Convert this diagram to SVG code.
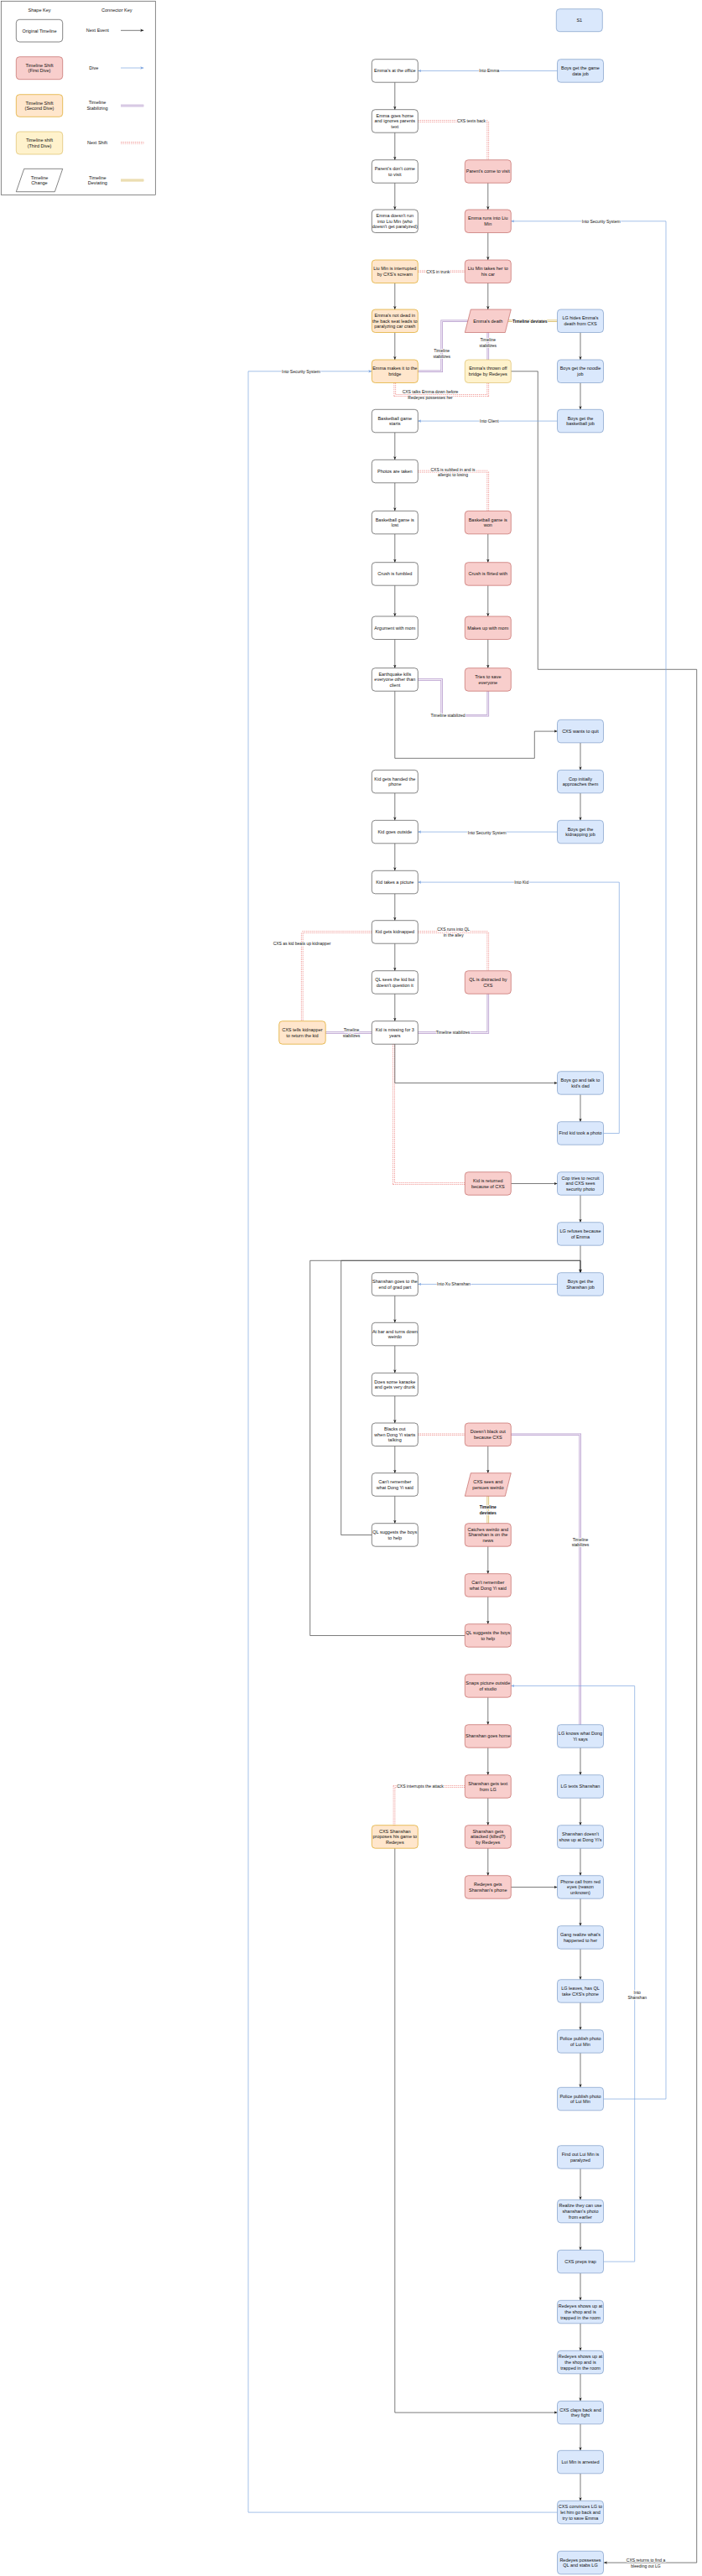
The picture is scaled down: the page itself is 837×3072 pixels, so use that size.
<svg xmlns="http://www.w3.org/2000/svg" width="837" height="3072" viewBox="0 0 837 3072">
<defs>
<style>
.o{fill:#fff;stroke:#333;stroke-width:.6}
.r{fill:#f8cecc;stroke:#b85450;stroke-width:.6}
.or{fill:#ffe6cc;stroke:#d79b00;stroke-width:.6}
.y{fill:#fff2cc;stroke:#d6b656;stroke-width:.6}
.b{fill:#dae8fc;stroke:#6c8ebf;stroke-width:.6}
text{font-family:"Liberation Sans",Arial,Helvetica,sans-serif;fill:#111;text-anchor:middle}
.t{font-size:5.5px}
.l{font-size:5px;stroke:#fff;stroke-width:1.6px;paint-order:stroke;stroke-linejoin:round}
.bd{font-weight:bold}
.a{fill:none;stroke:#444;stroke-width:.7;marker-end:url(#ah)}
.d{fill:none;stroke:#7ea6e0;stroke-width:.7;marker-end:url(#ab)}
.po{fill:none;stroke:#b69bcc;stroke-width:2.6}
.pi{fill:none;stroke:#f4eef8;stroke-width:1.1}
.ro{fill:none;stroke:#ee8a87;stroke-width:2.6;stroke-dasharray:1.4 1}
.ri{fill:none;stroke:#fff;stroke-width:1.1}
.yo{fill:none;stroke:#d6b656;stroke-width:2.6}
.yi{fill:none;stroke:#fff;stroke-width:1.1}
</style>
<marker id="ah" markerWidth="5" markerHeight="4" refX="4" refY="2" orient="auto" markerUnits="userSpaceOnUse"><path d="M0,0.3 L4,2 L0,3.7 L1,2 z" fill="#222"/></marker>
<marker id="ab" markerWidth="5" markerHeight="4" refX="4" refY="2" orient="auto" markerUnits="userSpaceOnUse"><path d="M0,0.3 L4,2 L0,3.7 L1,2 z" fill="#7ea6e0"/></marker>
</defs>
<rect width="837" height="3072" fill="#fff"/>

<g id="key">
<rect x="1.3" y="1.3" width="184" height="231" fill="none" stroke="#555" stroke-width=".7"/>
<text class="t" x="47" y="13.9">Shape Key</text>
<text class="t" x="139.3" y="13.9">Connector Key</text>
<rect class="o" x="19.3" y="23.3" width="55.4" height="26.7" rx="4"/>
<text class="t" x="47" y="38.6">Original Timeline</text>
<rect class="r" x="19.3" y="67.7" width="55.4" height="27" rx="4"/>
<text class="t" x="47" y="83.1"><tspan x="47" dy="-3.3">Timeline Shift</tspan><tspan x="47" dy="6.6">(First Dive)</tspan></text>
<rect class="or" x="19.3" y="112.7" width="55.4" height="26.6" rx="4"/>
<text class="t" x="47" y="127.9"><tspan x="47" dy="-3.3">Timeline Shift</tspan><tspan x="47" dy="6.6">(Second Dive)</tspan></text>
<rect class="y" x="19.3" y="157" width="55.4" height="27" rx="4"/>
<text class="t" x="47" y="172.4"><tspan x="47" dy="-3.3">Timeline shift</tspan><tspan x="47" dy="6.6">(Third Dive)</tspan></text>
<polygon class="o" points="28.7,201.3 74.7,201.3 65.3,228.7 19.3,228.7"/>
<text class="t" x="47" y="216.9"><tspan x="47" dy="-3.3">Timeline</tspan><tspan x="47" dy="6.6">Change</tspan></text>
<text class="t" x="116.3" y="38.2">Next Event</text>
<text class="t" x="111.7" y="82.9">Dive</text>
<text class="t" x="116" y="127.6"><tspan x="116" dy="-3.3">Timeline</tspan><tspan x="116" dy="6.6">Stabilizing</tspan></text>
<text class="t" x="116" y="172.2">Next Shift</text>
<text class="t" x="116.3" y="216.9"><tspan x="116.3" dy="-3.3">Timeline</tspan><tspan x="116.3" dy="6.6">Deviating</tspan></text>
<path class="a" d="M144,36.3 H171.3"/>
<path class="d" d="M144,81 H171.3"/>
<path class="po" d="M144,126 H171.3"/><path class="pi" d="M144,126 H171.3"/>
<path class="ro" d="M144,170.3 H171.3"/><path class="ri" d="M144,170.3 H171.3"/>
<path class="yo" d="M144,215 H171.3"/><path class="yi" d="M144,215 H171.3"/>
</g>

<g id="connectors">
<!-- double links: next shift -->
<path class="ro" d="M498.3,144.5 H581.8 V190.7"/><path class="ri" d="M498.3,144.5 H581.8 V190.7"/>
<path class="ro" d="M498.3,323.8 H554.3"/><path class="ri" d="M498.3,323.8 H554.3"/>
<path class="ro" d="M470.8,456.5 V471.5 H581.8 V456.5"/><path class="ri" d="M470.8,456.5 V471.5 H581.8 V456.5"/>
<path class="ro" d="M498.3,562.1 H581.8 V609.3"/><path class="ri" d="M498.3,562.1 H581.8 V609.3"/>
<path class="ro" d="M498.3,1111.5 H581.8 V1157.7"/><path class="ri" d="M498.3,1111.5 H581.8 V1157.7"/>
<path class="ro" d="M443.3,1111.5 H360.2 V1217.7"/><path class="ri" d="M443.3,1111.5 H360.2 V1217.7"/>
<path class="ro" d="M469.5,1245.2 V1411.5 H554.3"/><path class="ri" d="M469.5,1245.2 V1411.5 H554.3"/>
<path class="ro" d="M498.3,1710.8 H554.3"/><path class="ri" d="M498.3,1710.8 H554.3"/>
<path class="ro" d="M554.3,2130.5 H470 V2176.7"/><path class="ri" d="M554.3,2130.5 H470 V2176.7"/>
<!-- double links: stabilizes -->
<path class="po" d="M557.8,382.8 H526.7 V442.8 H498.3"/><path class="pi" d="M557.8,382.8 H526.7 V442.8 H498.3"/>
<path class="po" d="M581.8,396.5 V429"/><path class="pi" d="M581.8,396.5 V429"/>
<path class="po" d="M498.3,810.5 H526.7 V853.3 H581.8 V824.2"/><path class="pi" d="M498.3,810.5 H526.7 V853.3 H581.8 V824.2"/>
<path class="po" d="M581.8,1185.2 V1231.5 H498.3"/><path class="pi" d="M581.8,1185.2 V1231.5 H498.3"/>
<path class="po" d="M388.2,1231.5 H443.3"/><path class="pi" d="M388.2,1231.5 H443.3"/>
<path class="po" d="M609.3,1710.8 H691.7 V2056.7"/><path class="pi" d="M609.3,1710.8 H691.7 V2056.7"/>
<!-- double links: deviates -->
<path class="yo" d="M606,382.8 H664.5"/><path class="yi" d="M606,382.8 H664.5"/>
<path class="yo" d="M581.8,1784.2 V1816.7"/><path class="yi" d="M581.8,1784.2 V1816.7"/>

<!-- next event arrows -->
<path class="a" d="M470.8,98.2 V130.7"/>
<path class="a" d="M470.8,158.2 V190.7"/>
<path class="a" d="M470.8,218.2 V250"/>
<path class="a" d="M470.8,337.5 V369"/>
<path class="a" d="M470.8,396.5 V429"/>
<path class="a" d="M581.8,218.2 V250"/>
<path class="a" d="M581.8,277.5 V310"/>
<path class="a" d="M581.8,337.5 V369"/>
<path class="a" d="M692,396.5 V429"/>
<path class="a" d="M692,456.5 V488.3"/>
<path class="a" d="M609.3,442.8 H641.3 V798.3 H830.7 V3056.1 H720"/>
<path class="a" d="M470.8,515.8 V548.3"/>
<path class="a" d="M470.8,575.8 V609.3"/>
<path class="a" d="M470.8,636.8 V670.7"/>
<path class="a" d="M470.8,698.2 V735"/>
<path class="a" d="M470.8,762.5 V796.7"/>
<path class="a" d="M581.8,636.8 V670.7"/>
<path class="a" d="M581.8,698.2 V735"/>
<path class="a" d="M581.8,762.5 V796.7"/>
<path class="a" d="M470.8,824.2 V904.3 H637.3 V872.1 H664.5"/>
<path class="a" d="M692,885.8 V918.3"/>
<path class="a" d="M692,945.8 V978.3"/>
<path class="a" d="M470.8,945.8 V978.3"/>
<path class="a" d="M470.8,1005.8 V1038.3"/>
<path class="a" d="M470.8,1065.8 V1097.7"/>
<path class="a" d="M470.8,1125.2 V1157.7"/>
<path class="a" d="M470.8,1185.2 V1217.7"/>
<path class="a" d="M470.8,1245.2 V1291.5 H664.5"/>
<path class="a" d="M692,1305.2 V1337.7"/>
<path class="a" d="M609.3,1411.5 H664.5"/>
<path class="a" d="M692,1425.2 V1457.7"/>
<path class="a" d="M692,1485.2 V1517.7"/>
<path class="a" d="M443.3,1830.5 H406.7 V1503.3 H692 V1517.7"/>
<path class="a" d="M554.3,1950.5 H369.7 V1503.3 H692 V1517.7"/>
<path class="a" d="M470.8,1545.2 V1577.3"/>
<path class="a" d="M470.8,1604.8 V1637.3"/>
<path class="a" d="M470.8,1664.8 V1697"/>
<path class="a" d="M470.8,1724.5 V1756.7"/>
<path class="a" d="M470.8,1784.2 V1816.7"/>
<path class="a" d="M581.8,1724.5 V1756.7"/>
<path class="a" d="M581.8,1844.2 V1876.7"/>
<path class="a" d="M581.8,1904.2 V1936.7"/>
<path class="a" d="M581.8,2024.2 V2056.7"/>
<path class="a" d="M581.8,2084.2 V2116.7"/>
<path class="a" d="M581.8,2144.2 V2176.7"/>
<path class="a" d="M581.8,2204.2 V2236.7"/>
<path class="a" d="M609.3,2250.5 H664.5"/>
<path class="a" d="M692,2084.2 V2116.7"/>
<path class="a" d="M692,2144.2 V2176.7"/>
<path class="a" d="M692,2204.2 V2236.7"/>
<path class="a" d="M692,2264.2 V2296.7"/>
<path class="a" d="M692,2324.2 V2360.7"/>
<path class="a" d="M692,2388.2 V2420.7"/>
<path class="a" d="M692,2448.2 V2489.3"/>
<path class="a" d="M692,2586.2 V2623.3"/>
<path class="a" d="M692,2650.8 V2683.3"/>
<path class="a" d="M692,2710.8 V2743.3"/>
<path class="a" d="M692,2770.8 V2803.3"/>
<path class="a" d="M692,2830.8 V2863.3"/>
<path class="a" d="M692,2890.8 V2922.3"/>
<path class="a" d="M692,2949.8 V2982.3"/>
<path class="a" d="M470.8,2204.2 V2877.1 H664.5"/>

<!-- dives -->
<path class="d" d="M664.5,84.5 H498.3"/>
<path class="d" d="M664.5,502.1 H498.3"/>
<path class="d" d="M664.5,992.1 H498.3"/>
<path class="d" d="M719.5,1351.5 H738.3 V1052.1 H498.3"/>
<path class="d" d="M664.5,1531.5 H498.3"/>
<path class="d" d="M719.5,2697.1 H756.7 V2010.5 H609.3"/>
<path class="d" d="M719.5,2503.1 H794 V263.8 H609.3"/>
<path class="d" d="M664.5,2996.1 H296 V442.8 H443.3"/>

<!-- labels -->
<text class="l" x="583.3" y="86.2">Into Emma</text>
<text class="l" x="562" y="146.2">CXS texts back</text>
<text class="l" x="716.7" y="265.5">Into Security System</text>
<text class="l" x="522.3" y="325.5">CXS in trunk</text>
<text class="l bd" x="631.7" y="384.5">Timeline deviates</text>
<text class="l" x="581.8" y="410.5"><tspan x="581.8" dy="-3.3">Timeline</tspan><tspan x="581.8" dy="6.6">stabilizes</tspan></text>
<text class="l" x="526.7" y="423.4"><tspan x="526.7" dy="-3.3">Timeline</tspan><tspan x="526.7" dy="6.6">stabilizes</tspan></text>
<text class="l" x="359" y="444.5">Into Security System</text>
<text class="l" x="513" y="472.6"><tspan x="513" dy="-3.3">CXS talks Emma down before</tspan><tspan x="513" dy="6.6">Redeyes possesses her</tspan></text>
<text class="l" x="583.3" y="503.8">Into Client</text>
<text class="l" x="540" y="564.9"><tspan x="540" dy="-3.3">CXS is subbed in and is</tspan><tspan x="540" dy="6.6">allergic to losing</tspan></text>
<text class="l" x="534" y="855">Timeline stabilized</text>
<text class="l" x="580.7" y="994.8">Into Security System</text>
<text class="l" x="621.7" y="1053.8">Into Kid</text>
<text class="l" x="540.7" y="1113.4"><tspan x="540.7" dy="-3.3">CXS runs into QL</tspan><tspan x="540.7" dy="6.6">in the alley</tspan></text>
<text class="l" x="360" y="1126.7">CXS as kid beats up kidnapper</text>
<text class="l" x="540" y="1233.2">Timeline stabilizes</text>
<text class="l" x="419" y="1233.2"><tspan x="419" dy="-3.3">Timeline</tspan><tspan x="419" dy="6.6">stabilizes</tspan></text>
<text class="l" x="541" y="1533.2">Into Xu Shanshan</text>
<text class="l bd" x="581.8" y="1802.2"><tspan x="581.8" dy="-3.3">Timeline</tspan><tspan x="581.8" dy="6.6">deviates</tspan></text>
<text class="l" x="692" y="1840.9"><tspan x="692" dy="-3.3">Timeline</tspan><tspan x="692" dy="6.6">stabilizes</tspan></text>
<text class="l" x="501" y="2132.2">CXS interrupts the attack</text>
<text class="l" x="759.7" y="2380.9"><tspan x="759.7" dy="-3.3">Into</tspan><tspan x="759.7" dy="6.6">Shanshan</tspan></text>
<text class="l" x="770" y="3058.5"><tspan x="770" dy="-3.3">CXS returns to find a</tspan><tspan x="770" dy="6.6">bleeding out LG</tspan></text>
</g>

<!-- original timeline nodes -->
<g id="n_office"><rect class="o" x="443.3" y="70.7" width="55" height="27.5" rx="4"/><text class="t" x="470.8" y="86.4">Emma's at the office</text></g>
<g id="n_home"><rect class="o" x="443.3" y="130.7" width="55" height="27.5" rx="4"/><text class="t" x="470.8" y="146.4"><tspan x="470.8" dy="-6.6">Emma goes home</tspan><tspan x="470.8" dy="6.6">and ignores parents</tspan><tspan x="470.8" dy="6.6">text</tspan></text></g>
<g id="n_parents_no"><rect class="o" x="443.3" y="190.7" width="55" height="27.5" rx="4"/><text class="t" x="470.8" y="206.4"><tspan x="470.8" dy="-3.3">Parent's don't come</tspan><tspan x="470.8" dy="6.6">to visit</tspan></text></g>
<g id="n_norun"><rect class="o" x="443.3" y="250" width="55" height="27.5" rx="4"/><text class="t" x="470.8" y="265.7"><tspan x="470.8" dy="-6.6">Emma doesn't run</tspan><tspan x="470.8" dy="6.6">into Liu Min (who</tspan><tspan x="470.8" dy="6.6">doesn't get paralyzed)</tspan></text></g>
<g id="n_bb_start"><rect class="o" x="443.3" y="488.3" width="55" height="27.5" rx="4"/><text class="t" x="470.8" y="504"><tspan x="470.8" dy="-3.3">Basketball game</tspan><tspan x="470.8" dy="6.6">starts</tspan></text></g>
<g id="n_photos"><rect class="o" x="443.3" y="548.3" width="55" height="27.5" rx="4"/><text class="t" x="470.8" y="564">Photos are taken</text></g>
<g id="n_bb_lost"><rect class="o" x="443.3" y="609.3" width="55" height="27.5" rx="4"/><text class="t" x="470.8" y="625"><tspan x="470.8" dy="-3.3">Basketball game is</tspan><tspan x="470.8" dy="6.6">lost</tspan></text></g>
<g id="n_fumbled"><rect class="o" x="443.3" y="670.7" width="55" height="27.5" rx="4"/><text class="t" x="470.8" y="686.4">Crush is fumbled</text></g>
<g id="n_argument"><rect class="o" x="443.3" y="735" width="55" height="27.5" rx="4"/><text class="t" x="470.8" y="750.7">Argument with mom</text></g>
<g id="n_earthquake"><rect class="o" x="443.3" y="796.7" width="55" height="27.5" rx="4"/><text class="t" x="470.8" y="812.4"><tspan x="470.8" dy="-6.6">Earthquake kills</tspan><tspan x="470.8" dy="6.6">everyone other than</tspan><tspan x="470.8" dy="6.6">client</tspan></text></g>
<g id="n_kidphone"><rect class="o" x="443.3" y="918.3" width="55" height="27.5" rx="4"/><text class="t" x="470.8" y="934"><tspan x="470.8" dy="-3.3">Kid gets handed the</tspan><tspan x="470.8" dy="6.6">phone</tspan></text></g>
<g id="n_kidout"><rect class="o" x="443.3" y="978.3" width="55" height="27.5" rx="4"/><text class="t" x="470.8" y="994">Kid goes outside</text></g>
<g id="n_kidpic"><rect class="o" x="443.3" y="1038.3" width="55" height="27.5" rx="4"/><text class="t" x="470.8" y="1054">Kid takes a picture</text></g>
<g id="n_kidnapped"><rect class="o" x="443.3" y="1097.7" width="55" height="27.5" rx="4"/><text class="t" x="470.8" y="1113.4">Kid gets kidnapped</text></g>
<g id="n_qlsees"><rect class="o" x="443.3" y="1157.7" width="55" height="27.5" rx="4"/><text class="t" x="470.8" y="1173.4"><tspan x="470.8" dy="-3.3">QL sees the kid but</tspan><tspan x="470.8" dy="6.6">doesn't question it</tspan></text></g>
<g id="n_missing"><rect class="o" x="443.3" y="1217.7" width="55" height="27.5" rx="4"/><text class="t" x="470.8" y="1233.4"><tspan x="470.8" dy="-3.3">Kid is missing for 3</tspan><tspan x="470.8" dy="6.6">years</tspan></text></g>
<g id="n_grad"><rect class="o" x="443.3" y="1517.7" width="55" height="27.5" rx="4"/><text class="t" x="470.8" y="1533.4"><tspan x="470.8" dy="-3.3">Shanshan goes to the</tspan><tspan x="470.8" dy="6.6">end of grad part</tspan></text></g>
<g id="n_bar"><rect class="o" x="443.3" y="1577.3" width="55" height="27.5" rx="4"/><text class="t" x="470.8" y="1593"><tspan x="470.8" dy="-3.3">At bar and turns down</tspan><tspan x="470.8" dy="6.6">weirdo</tspan></text></g>
<g id="n_karaoke"><rect class="o" x="443.3" y="1637.3" width="55" height="27.5" rx="4"/><text class="t" x="470.8" y="1653"><tspan x="470.8" dy="-3.3">Does some karaoke</tspan><tspan x="470.8" dy="6.6">and gets very drunk</tspan></text></g>
<g id="n_blackout"><rect class="o" x="443.3" y="1697" width="55" height="27.5" rx="4"/><text class="t" x="470.8" y="1712.7"><tspan x="470.8" dy="-6.6">Blacks out</tspan><tspan x="470.8" dy="6.6">when Dong Yi starts</tspan><tspan x="470.8" dy="6.6">talking</tspan></text></g>
<g id="n_cantremember"><rect class="o" x="443.3" y="1756.7" width="55" height="27.5" rx="4"/><text class="t" x="470.8" y="1772.4"><tspan x="470.8" dy="-3.3">Can't remember</tspan><tspan x="470.8" dy="6.6">what Dong Yi said</tspan></text></g>
<g id="n_qlsuggests"><rect class="o" x="443.3" y="1816.7" width="55" height="27.5" rx="4"/><text class="t" x="470.8" y="1832.4"><tspan x="470.8" dy="-3.3">QL suggests the boys</tspan><tspan x="470.8" dy="6.6">to help</tspan></text></g>

<!-- first dive (red) -->
<g id="r_parents"><rect class="r" x="554.3" y="190.7" width="55" height="27.5" rx="4"/><text class="t" x="581.8" y="206.4">Parent's come to visit</text></g>
<g id="r_runs"><rect class="r" x="554.3" y="250" width="55" height="27.5" rx="4"/><text class="t" x="581.8" y="265.7"><tspan x="581.8" dy="-3.3">Emma runs into Liu</tspan><tspan x="581.8" dy="6.6">Min</tspan></text></g>
<g id="r_car"><rect class="r" x="554.3" y="310" width="55" height="27.5" rx="4"/><text class="t" x="581.8" y="325.7"><tspan x="581.8" dy="-3.3">Liu Min takes her to</tspan><tspan x="581.8" dy="6.6">his car</tspan></text></g>
<g id="r_death"><polygon class="r" points="561.3,369 609.3,369 602.3,396.5 554.3,396.5"/><text class="t" x="581.8" y="384.7">Emma's death</text></g>
<g id="r_won"><rect class="r" x="554.3" y="609.3" width="55" height="27.5" rx="4"/><text class="t" x="581.8" y="625"><tspan x="581.8" dy="-3.3">Basketball game is</tspan><tspan x="581.8" dy="6.6">won</tspan></text></g>
<g id="r_flirted"><rect class="r" x="554.3" y="670.7" width="55" height="27.5" rx="4"/><text class="t" x="581.8" y="686.4">Crush is flirted with</text></g>
<g id="r_makesup"><rect class="r" x="554.3" y="735" width="55" height="27.5" rx="4"/><text class="t" x="581.8" y="750.7">Makes up with mom</text></g>
<g id="r_tries"><rect class="r" x="554.3" y="796.7" width="55" height="27.5" rx="4"/><text class="t" x="581.8" y="812.4"><tspan x="581.8" dy="-3.3">Tries to save</tspan><tspan x="581.8" dy="6.6">everyone</tspan></text></g>
<g id="r_qldistracted"><rect class="r" x="554.3" y="1157.7" width="55" height="27.5" rx="4"/><text class="t" x="581.8" y="1173.4"><tspan x="581.8" dy="-3.3">QL is distracted by</tspan><tspan x="581.8" dy="6.6">CXS</tspan></text></g>
<g id="r_returned"><rect class="r" x="554.3" y="1397.7" width="55" height="27.5" rx="4"/><text class="t" x="581.8" y="1413.4"><tspan x="581.8" dy="-3.3">Kid is returned</tspan><tspan x="581.8" dy="6.6">because of CXS</tspan></text></g>
<g id="r_noblack"><rect class="r" x="554.3" y="1697" width="55" height="27.5" rx="4"/><text class="t" x="581.8" y="1712.7"><tspan x="581.8" dy="-3.3">Doesn't black out</tspan><tspan x="581.8" dy="6.6">because CXS</tspan></text></g>
<g id="r_persues"><polygon class="r" points="561.3,1756.7 609.3,1756.7 602.3,1784.2 554.3,1784.2"/><text class="t" x="581.8" y="1772.4"><tspan x="581.8" dy="-3.3">CXS sees and</tspan><tspan x="581.8" dy="6.6">persues weirdo</tspan></text></g>
<g id="r_catches"><rect class="r" x="554.3" y="1816.7" width="55" height="27.5" rx="4"/><text class="t" x="581.8" y="1832.4"><tspan x="581.8" dy="-6.6">Catches weirdo and</tspan><tspan x="581.8" dy="6.6">Shanshan is on the</tspan><tspan x="581.8" dy="6.6">news</tspan></text></g>
<g id="r_cantremember"><rect class="r" x="554.3" y="1876.7" width="55" height="27.5" rx="4"/><text class="t" x="581.8" y="1892.4"><tspan x="581.8" dy="-3.3">Can't remember</tspan><tspan x="581.8" dy="6.6">what Dong Yi said</tspan></text></g>
<g id="r_qlsuggests"><rect class="r" x="554.3" y="1936.7" width="55" height="27.5" rx="4"/><text class="t" x="581.8" y="1952.4"><tspan x="581.8" dy="-3.3">QL suggests the boys</tspan><tspan x="581.8" dy="6.6">to help</tspan></text></g>
<g id="r_snaps"><rect class="r" x="554.3" y="1996.7" width="55" height="27.5" rx="4"/><text class="t" x="581.8" y="2012.4"><tspan x="581.8" dy="-3.3">Snaps picture outside</tspan><tspan x="581.8" dy="6.6">of studio</tspan></text></g>
<g id="r_sshome"><rect class="r" x="554.3" y="2056.7" width="55" height="27.5" rx="4"/><text class="t" x="581.8" y="2072.4">Shanshan goes home</text></g>
<g id="r_sstext"><rect class="r" x="554.3" y="2116.7" width="55" height="27.5" rx="4"/><text class="t" x="581.8" y="2132.4"><tspan x="581.8" dy="-3.3">Shanshan gets text</tspan><tspan x="581.8" dy="6.6">from LG</tspan></text></g>
<g id="r_attacked"><rect class="r" x="554.3" y="2176.7" width="55" height="27.5" rx="4"/><text class="t" x="581.8" y="2192.4"><tspan x="581.8" dy="-6.6">Shanshan gets</tspan><tspan x="581.8" dy="6.6">attacked (killed?)</tspan><tspan x="581.8" dy="6.6">by Redeyes</tspan></text></g>
<g id="r_redphone"><rect class="r" x="554.3" y="2236.7" width="55" height="27.5" rx="4"/><text class="t" x="581.8" y="2252.4"><tspan x="581.8" dy="-3.3">Redeyes gets</tspan><tspan x="581.8" dy="6.6">Shanshan's phone</tspan></text></g>

<!-- second dive (orange) -->
<g id="o_interrupted"><rect class="or" x="443.3" y="310" width="55" height="27.5" rx="4"/><text class="t" x="470.8" y="325.7"><tspan x="470.8" dy="-3.3">Liu Min is interrupted</tspan><tspan x="470.8" dy="6.6">by CXS's scream</tspan></text></g>
<g id="o_notdead"><rect class="or" x="443.3" y="369" width="55" height="27.5" rx="4"/><text class="t" x="470.8" y="384.7"><tspan x="470.8" dy="-6.6">Emma's not dead in</tspan><tspan x="470.8" dy="6.6">the back seat leads to</tspan><tspan x="470.8" dy="6.6">paralyzing car crash</tspan></text></g>
<g id="o_bridge"><rect class="or" x="443.3" y="429" width="55" height="27.5" rx="4"/><text class="t" x="470.8" y="444.7"><tspan x="470.8" dy="-3.3">Emma makes it to the</tspan><tspan x="470.8" dy="6.6">bridge</tspan></text></g>
<g id="o_kidnapper"><rect class="or" x="332.7" y="1217.7" width="55.5" height="27.5" rx="4"/><text class="t" x="360.4" y="1233.4"><tspan x="360.4" dy="-3.3">CXS tells kidnapper</tspan><tspan x="360.4" dy="6.6">to return the kid</tspan></text></g>
<g id="o_proposes"><rect class="or" x="443.3" y="2176.7" width="55" height="27.5" rx="4"/><text class="t" x="470.8" y="2192.4"><tspan x="470.8" dy="-6.6">CXS Shanshan</tspan><tspan x="470.8" dy="6.6">proposes his game to</tspan><tspan x="470.8" dy="6.6">Redeyes</tspan></text></g>

<!-- third dive (yellow) -->
<g id="y_thrown"><rect class="y" x="554.3" y="429" width="55" height="27.5" rx="4"/><text class="t" x="581.8" y="444.7"><tspan x="581.8" dy="-3.3">Emma's thrown off</tspan><tspan x="581.8" dy="6.6">bridge by Redeyes</tspan></text></g>

<!-- blue column -->
<g id="b_s1"><rect class="b" x="663.3" y="10.7" width="55" height="27" rx="4"/><text class="t" x="690.8" y="26.3">S1</text></g>
<g id="b_gamedata"><rect class="b" x="664.5" y="70.7" width="55" height="27.5" rx="4"/><text class="t" x="692" y="86.4"><tspan x="692" dy="-3.3">Boys get the game</tspan><tspan x="692" dy="6.6">data job</tspan></text></g>
<g id="b_lghides"><rect class="b" x="664.5" y="369" width="55" height="27.5" rx="4"/><text class="t" x="692" y="384.7"><tspan x="692" dy="-3.3">LG hides Emma's</tspan><tspan x="692" dy="6.6">death from CXS</tspan></text></g>
<g id="b_noodle"><rect class="b" x="664.5" y="429" width="55" height="27.5" rx="4"/><text class="t" x="692" y="444.7"><tspan x="692" dy="-3.3">Boys get the noodle</tspan><tspan x="692" dy="6.6">job</tspan></text></g>
<g id="b_basketball"><rect class="b" x="664.5" y="488.3" width="55" height="27.5" rx="4"/><text class="t" x="692" y="504"><tspan x="692" dy="-3.3">Boys get the</tspan><tspan x="692" dy="6.6">basketball job</tspan></text></g>
<g id="b_quit"><rect class="b" x="664.5" y="858.3" width="55" height="27.5" rx="4"/><text class="t" x="692" y="874">CXS wants to quit</text></g>
<g id="b_cop"><rect class="b" x="664.5" y="918.3" width="55" height="27.5" rx="4"/><text class="t" x="692" y="934"><tspan x="692" dy="-3.3">Cop initially</tspan><tspan x="692" dy="6.6">approaches them</tspan></text></g>
<g id="b_kidnapping"><rect class="b" x="664.5" y="978.3" width="55" height="27.5" rx="4"/><text class="t" x="692" y="994"><tspan x="692" dy="-3.3">Boys get the</tspan><tspan x="692" dy="6.6">kidnapping job</tspan></text></g>
<g id="b_dad"><rect class="b" x="664.5" y="1277.7" width="55" height="27.5" rx="4"/><text class="t" x="692" y="1293.4"><tspan x="692" dy="-3.3">Boys go and talk to</tspan><tspan x="692" dy="6.6">kid's dad</tspan></text></g>
<g id="b_findphoto"><rect class="b" x="664.5" y="1337.7" width="55" height="27.5" rx="4"/><text class="t" x="692" y="1353.4">Find kid took a photo</text></g>
<g id="b_recruit"><rect class="b" x="664.5" y="1397.7" width="55" height="27.5" rx="4"/><text class="t" x="692" y="1413.4"><tspan x="692" dy="-6.6">Cop tries to recruit</tspan><tspan x="692" dy="6.6">and CXS sees</tspan><tspan x="692" dy="6.6">security photo</tspan></text></g>
<g id="b_refuses"><rect class="b" x="664.5" y="1457.7" width="55" height="27.5" rx="4"/><text class="t" x="692" y="1473.4"><tspan x="692" dy="-3.3">LG refuses because</tspan><tspan x="692" dy="6.6">of Emma</tspan></text></g>
<g id="b_shanshanjob"><rect class="b" x="664.5" y="1517.7" width="55" height="27.5" rx="4"/><text class="t" x="692" y="1533.4"><tspan x="692" dy="-3.3">Boys get the</tspan><tspan x="692" dy="6.6">Shanshan job</tspan></text></g>
<g id="b_lgknows"><rect class="b" x="664.5" y="2056.7" width="55" height="27.5" rx="4"/><text class="t" x="692" y="2072.4"><tspan x="692" dy="-3.3">LG knows what Dong</tspan><tspan x="692" dy="6.6">Yi says</tspan></text></g>
<g id="b_lgtexts"><rect class="b" x="664.5" y="2116.7" width="55" height="27.5" rx="4"/><text class="t" x="692" y="2132.4">LG texts Shanshan</text></g>
<g id="b_noshow"><rect class="b" x="664.5" y="2176.7" width="55" height="27.5" rx="4"/><text class="t" x="692" y="2192.4"><tspan x="692" dy="-3.3">Shanshan doesn't</tspan><tspan x="692" dy="6.6">show up at Dong Yi's</tspan></text></g>
<g id="b_phonecall"><rect class="b" x="664.5" y="2236.7" width="55" height="27.5" rx="4"/><text class="t" x="692" y="2252.4"><tspan x="692" dy="-6.6">Phone call from red</tspan><tspan x="692" dy="6.6">eyes (reason</tspan><tspan x="692" dy="6.6">unknown)</tspan></text></g>
<g id="b_gang"><rect class="b" x="664.5" y="2296.7" width="55" height="27.5" rx="4"/><text class="t" x="692" y="2312.4"><tspan x="692" dy="-3.3">Gang realize what's</tspan><tspan x="692" dy="6.6">happened to her</tspan></text></g>
<g id="b_lgleaves"><rect class="b" x="664.5" y="2360.7" width="55" height="27.5" rx="4"/><text class="t" x="692" y="2376.4"><tspan x="692" dy="-3.3">LG leaves, has QL</tspan><tspan x="692" dy="6.6">take CXS's phone</tspan></text></g>
<g id="b_police1"><rect class="b" x="664.5" y="2420.7" width="55" height="27.5" rx="4"/><text class="t" x="692" y="2436.4"><tspan x="692" dy="-3.3">Police publish photo</tspan><tspan x="692" dy="6.6">of Lui Min</tspan></text></g>
<g id="b_police2"><rect class="b" x="664.5" y="2489.3" width="55" height="27.5" rx="4"/><text class="t" x="692" y="2505"><tspan x="692" dy="-3.3">Police publish photo</tspan><tspan x="692" dy="6.6">of Lui Min</tspan></text></g>
<g id="b_paralyzed"><rect class="b" x="664.5" y="2558.7" width="55" height="27.5" rx="4"/><text class="t" x="692" y="2574.4"><tspan x="692" dy="-3.3">Find out Lui Min is</tspan><tspan x="692" dy="6.6">paralyzed</tspan></text></g>
<g id="b_realize"><rect class="b" x="664.5" y="2623.3" width="55" height="27.5" rx="4"/><text class="t" x="692" y="2639"><tspan x="692" dy="-6.6">Realize they can use</tspan><tspan x="692" dy="6.6">shanshan's photo</tspan><tspan x="692" dy="6.6">from earlier</tspan></text></g>
<g id="b_trap"><rect class="b" x="664.5" y="2683.3" width="55" height="27.5" rx="4"/><text class="t" x="692" y="2699">CXS preps trap</text></g>
<g id="b_redeyes1"><rect class="b" x="664.5" y="2743.3" width="55" height="27.5" rx="4"/><text class="t" x="692" y="2759"><tspan x="692" dy="-6.6">Redeyes shows up at</tspan><tspan x="692" dy="6.6">the shop and is</tspan><tspan x="692" dy="6.6">trapped in the room</tspan></text></g>
<g id="b_redeyes2"><rect class="b" x="664.5" y="2803.3" width="55" height="27.5" rx="4"/><text class="t" x="692" y="2819"><tspan x="692" dy="-6.6">Redeyes shows up at</tspan><tspan x="692" dy="6.6">the shop and is</tspan><tspan x="692" dy="6.6">trapped in the room</tspan></text></g>
<g id="b_claps"><rect class="b" x="664.5" y="2863.3" width="55" height="27.5" rx="4"/><text class="t" x="692" y="2879"><tspan x="692" dy="-3.3">CXS claps back and</tspan><tspan x="692" dy="6.6">they fight</tspan></text></g>
<g id="b_arrested"><rect class="b" x="664.5" y="2922.3" width="55" height="27.5" rx="4"/><text class="t" x="692" y="2938">Lui Min is arrested</text></g>
<g id="b_convinces"><rect class="b" x="664.5" y="2982.3" width="55" height="27.5" rx="4"/><text class="t" x="692" y="2998"><tspan x="692" dy="-6.6">CXS convinces LG to</tspan><tspan x="692" dy="6.6">let him go back and</tspan><tspan x="692" dy="6.6">try to save Emma</tspan></text></g>
<g id="b_possesses"><rect class="b" x="664.5" y="3042.3" width="55" height="27.5" rx="4"/><text class="t" x="692" y="3058"><tspan x="692" dy="-3.3">Redeyes possesses</tspan><tspan x="692" dy="6.6">QL and stabs LG</tspan></text></g>
</svg>
